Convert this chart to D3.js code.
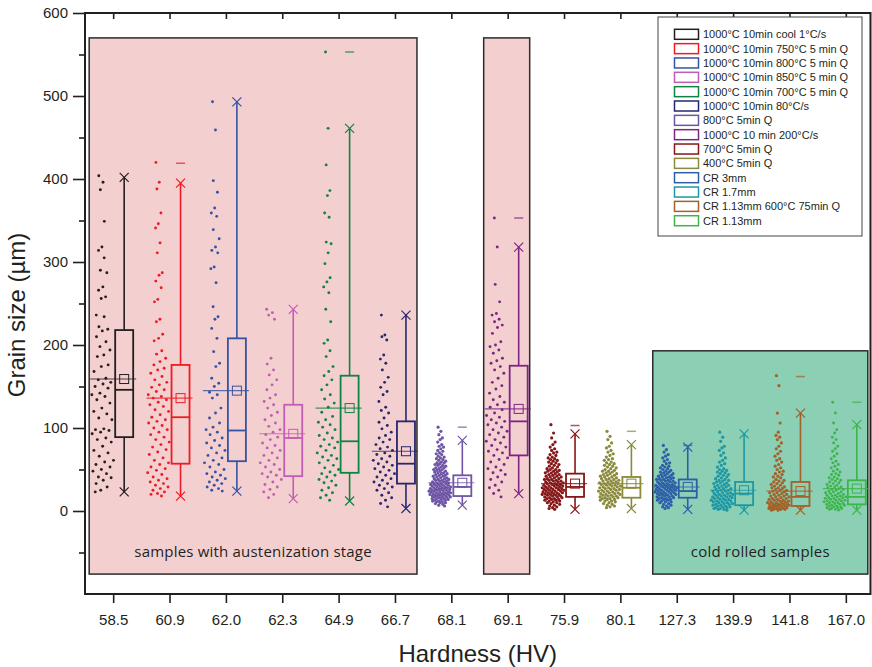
<!DOCTYPE html>
<html>
<head>
<meta charset="utf-8">
<script src="https://cdn.jsdelivr.net/npm/d3@7"></script>
<style>
  body { margin: 0; background: #fff; }
  svg text { font-family: "Liberation Sans", Arial, sans-serif; }
  .axis path { display: none; }
  .axis line { stroke: #231f20; stroke-width: 1.6; }
  .axis text { font-size: 15px; fill: #231f20; }
</style>
</head>
<body>
<svg id="chart" width="872" height="667"></svg>
<script>
// ---------- data ----------
var categories = ['58.5', '60.9', '62.0', '62.3', '64.9', '66.7', '68.1', '69.1', '75.9', '80.1', '127.3', '139.9', '141.8', '167.0'];

var seriesNames = ['1000°C 10min cool 1°C/s', '1000°C 10min 750°C 5 min Q', '1000°C 10min 800°C 5 min Q',
  '1000°C 10min 850°C 5 min Q', '1000°C 10min 700°C 5 min Q', '1000°C 10min 80°C/s', '800°C 5min Q',
  '1000°C 10 min 200°C/s', '700°C 5min Q', '400°C 5min Q', 'CR 3mm', 'CR 1.7mm', 'CR 1.13mm 600°C 75min Q', 'CR 1.13mm'];

var colors = ['#231f20', '#ed1c24', '#3553a3', '#c25db5', '#0f8442', '#25276f', '#6f55a6',
  '#7d2585', '#861618', '#8a8a3a', '#2d5fa8', '#1e98a4', '#a2622a', '#3db54a'];

// box statistics (µm)
var q1     = [89, 57, 60, 42, 46, 33, 18, 67, 17, 16, 16, 7, 6, 8];
var median = [146, 113, 97, 88, 84, 57, 29, 108, 29, 28, 24, 21, 17, 17];
var q3     = [218, 176, 208, 128, 163, 108, 43, 175, 45, 41, 38, 35, 35, 37];
var mean   = [159, 136, 145, 93, 124, 72, 34, 123, 33, 33, 29, 25, 24, 27];
var p1     = [23, 18, 24, 15, 12, 3, 7, 21, 2, 3, 2, 1, 1, 1];
var p99    = [402, 395, 493, 243, 461, 236, 85, 318, 93, 80, 77, 93, 118, 104];
var maxVal = [null, 419, null, null, 553, null, 101, 353, 103, 96, 79, null, 162, 131];

// individual grains
var pts585 = [404, 396, 387, 349, 318, 314, 305, 290, 287, 270, 266, 258, 256, 236, 234, 222, 219, 217, 210, 204,
  198, 194, 188, 186, 176, 174, 168, 160, 158, 155, 153, 150, 148, 142, 140, 138, 134, 130, 124, 120, 117, 112, 110,
  99, 98, 97, 95, 93, 88, 86, 83, 78, 73, 70, 66, 61, 59, 56, 53, 50, 48, 45, 41, 40, 37, 33, 29, 25, 23];
var pts609 = [420, 396, 388, 359, 346, 341, 323, 311, 287, 284, 277, 269, 255, 252, 231, 228, 213, 208, 205, 193,
  189, 184, 180, 176, 172, 170, 166, 162, 158, 155, 152, 149, 146, 144, 140, 138, 136, 134, 131, 128, 126, 122, 120,
  116, 113, 110, 108, 106, 103, 100, 98, 95, 92, 89, 86, 83, 80, 77, 74, 71, 68, 64, 61, 58, 56, 53, 51, 49, 46, 44,
  41, 39, 37, 35, 33, 31, 29, 27, 25, 23, 21, 20, 18];
var pts620 = [493, 459, 398, 384, 365, 359, 355, 339, 328, 318, 314, 311, 294, 292, 275, 246, 234, 231, 220, 208,
  192, 178, 174, 160, 154, 150, 143, 140, 136, 124, 118, 112, 106, 101, 98, 95, 92, 88, 85, 82, 79, 76, 73, 70, 67,
  64, 61, 58, 56, 53, 50, 47, 45, 43, 41, 39, 37, 35, 33, 31, 29, 27, 25, 24];
var pts623 = [243, 239, 236, 231, 184, 177, 170, 164, 158, 152, 146, 140, 136, 132, 128, 124, 119, 115, 110, 106,
  102, 98, 95, 92, 89, 86, 82, 79, 76, 73, 70, 67, 64, 61, 58, 56, 53, 50, 47, 45, 43, 41, 38, 35, 32, 29, 26, 23, 20, 16];
var pts649 = [553, 461, 417, 386, 380, 359, 354, 324, 322, 311, 298, 281, 276, 270, 263, 243, 228, 206, 202, 193,
  186, 174, 168, 163, 158, 152, 146, 140, 135, 130, 125, 119, 114, 110, 107, 104, 101, 98, 94, 91, 88, 86, 83, 80, 78,
  76, 73, 70, 67, 65, 63, 61, 58, 55, 52, 50, 47, 45, 43, 41, 38, 36, 34, 31, 28, 25, 22, 19, 16, 13];
var pts667 = [236, 212, 210, 206, 188, 183, 178, 170, 161, 155, 149, 144, 140, 132, 125, 121, 118, 112, 107, 103,
  99, 95, 91, 88, 86, 83, 80, 77, 75, 73, 70, 68, 66, 63, 61, 59, 57, 55, 53, 51, 49, 47, 45, 43, 41, 39, 37, 35, 33,
  31, 29, 27, 25, 22, 19, 16, 13, 9, 5];
var pts681 = [101, 96, 92, 88, 86, 83, 80, 78, 77, 75, 73, 72, 70, 69, 68, 66, 65, 64, 63, 62, 61, 60, 59, 58, 58,
  57, 56, 55, 55, 54, 53, 52, 52, 51, 50, 50, 49, 48, 48, 47, 46, 46, 45, 45, 44, 43, 43, 42, 42, 41, 40, 40, 39, 39,
  38, 38, 37, 37, 36, 36, 35, 35, 34, 34, 33, 33, 33, 32, 32, 31, 31, 31, 30, 30, 29, 29, 29, 28, 28, 28, 27, 27, 27,
  26, 26, 26, 25, 25, 25, 24, 24, 24, 23, 23, 23, 22, 22, 22, 21, 21, 21, 20, 20, 20, 19, 19, 19, 18, 18, 18, 17, 17,
  17, 16, 16, 15, 15, 15, 14, 14, 13, 13, 12, 12, 11, 11, 10, 10, 9, 8, 7, 6];
var pts691 = [353, 318, 273, 252, 238, 236, 231, 228, 224, 221, 214, 204, 200, 198, 194, 190, 184, 181, 178, 174,
  170, 166, 160, 155, 151, 147, 142, 138, 134, 131, 128, 125, 122, 118, 115, 113, 110, 108, 106, 104, 101, 98, 96, 94,
  92, 89, 86, 84, 82, 79, 77, 74, 72, 70, 67, 64, 62, 59, 56, 53, 51, 49, 46, 44, 41, 38, 35, 31, 28, 25, 21, 17];
var pts759 = [104, 94, 88, 83, 80, 77, 75, 73, 71, 70, 68, 67, 65, 64, 63, 62, 61, 60, 59, 58, 57, 56, 55, 54, 53,
  52, 51, 50, 50, 49, 48, 48, 47, 46, 46, 45, 44, 44, 43, 42, 42, 41, 41, 40, 39, 39, 38, 38, 37, 37, 36, 36, 35, 35,
  34, 34, 33, 33, 32, 32, 31, 31, 30, 30, 30, 29, 29, 28, 28, 28, 27, 27, 26, 26, 26, 25, 25, 24, 24, 24, 23, 23, 22,
  22, 22, 21, 21, 20, 20, 20, 19, 19, 18, 18, 17, 17, 16, 16, 15, 15, 14, 14, 13, 13, 12, 12, 11, 10, 10, 9, 8, 7, 6,
  5, 4, 3, 2];
var pts801 = [96, 90, 86, 82, 78, 76, 73, 71, 69, 67, 65, 63, 62, 61, 59, 58, 57, 56, 55, 54, 53, 52, 51, 50, 49,
  48, 48, 47, 46, 45, 45, 44, 43, 43, 42, 41, 41, 40, 39, 39, 38, 38, 37, 36, 36, 35, 35, 34, 34, 33, 33, 32, 32, 31,
  31, 30, 30, 29, 29, 28, 28, 27, 27, 26, 26, 25, 25, 24, 24, 23, 23, 22, 22, 21, 21, 20, 20, 19, 19, 18, 18, 17, 17,
  16, 16, 15, 15, 14, 14, 13, 12, 12, 11, 10, 9, 8, 7, 6, 5, 4];
var pts1273 = [79, 74, 71, 68, 66, 64, 62, 60, 58, 57, 55, 54, 53, 52, 51, 50, 49, 48, 47, 47, 46, 45, 45, 44, 43,
  43, 42, 41, 41, 40, 40, 39, 39, 38, 38, 37, 37, 36, 36, 35, 35, 34, 34, 33, 33, 32, 32, 31, 31, 31, 30, 30, 29, 29,
  29, 28, 28, 27, 27, 27, 26, 26, 25, 25, 25, 24, 24, 23, 23, 23, 22, 22, 21, 21, 21, 20, 20, 19, 19, 18, 18, 17, 17,
  16, 16, 15, 15, 14, 14, 13, 13, 12, 11, 11, 10, 9, 8, 7, 6, 5, 4, 3];
var pts1399 = [95, 89, 84, 78, 76, 73, 70, 67, 64, 61, 59, 57, 55, 53, 51, 50, 49, 48, 47, 46, 45, 44, 43, 42, 41,
  40, 39, 38, 37, 37, 36, 35, 34, 34, 33, 32, 31, 31, 30, 29, 29, 28, 27, 27, 26, 25, 25, 24, 24, 23, 22, 22, 21, 21,
  20, 20, 19, 19, 18, 18, 17, 17, 16, 16, 15, 15, 14, 14, 13, 13, 12, 12, 11, 11, 10, 10, 9, 9, 8, 8, 7, 7, 6, 6, 5,
  5, 4, 4, 3, 3, 2, 2, 1];
var pts1418 = [163, 151, 118, 106, 95, 91, 89, 86, 82, 78, 75, 72, 69, 66, 63, 61, 59, 56, 54, 52, 50, 48, 47, 45,
  44, 42, 41, 40, 38, 37, 36, 35, 34, 33, 32, 31, 30, 29, 28, 28, 27, 26, 25, 25, 24, 23, 22, 22, 21, 20, 20, 19, 18,
  18, 17, 17, 16, 15, 15, 14, 14, 13, 13, 12, 12, 11, 11, 10, 10, 10, 9, 9, 8, 8, 8, 7, 7, 7, 6, 6, 6, 5, 5, 5, 4, 4,
  4, 3, 3, 3, 2, 2, 2, 1, 1];
var pts1670 = [131, 118, 106, 98, 94, 89, 86, 82, 78, 75, 72, 69, 66, 63, 60, 58, 56, 54, 52, 50, 48, 47, 45, 44,
  43, 41, 40, 39, 38, 37, 36, 35, 34, 33, 32, 31, 30, 29, 29, 28, 27, 26, 26, 25, 24, 23, 23, 22, 21, 21, 20, 19, 19,
  18, 18, 17, 17, 16, 16, 15, 15, 14, 14, 13, 13, 12, 12, 11, 11, 10, 10, 9, 9, 8, 8, 7, 7, 6, 6, 5, 5, 4, 4, 3, 3, 2,
  2, 1];

var points = [pts585, pts609, pts620, pts623, pts649, pts667, pts681, pts691, pts759, pts801, pts1273, pts1399, pts1418, pts1670];

// shaded groups of samples: [first, last, top value, label, fill]
var groups = [
  ['58.5', '66.7', 570, 'samples with austenization stage', '#f4cfcf'],
  ['69.1', '69.1', 570, '', '#f4cfcf'],
  ['127.3', '167.0', 193, 'cold rolled samples', '#8bcfb4']
];
var groupBottom = -76;

// ---------- layout ----------
var plotL = 85, plotR = 874, plotT = 13, plotB = 594, frameR = 870.5;

var svg = d3.select('#chart');

var x = d3.scalePoint().domain(categories).range([plotL, plotR]).padding(0.5);
var y = d3.scaleLinear().domain([-100, 600]).range([plotB, plotT]);

//---------------------shaded groups----------
var gGroups = svg.append('g');
groups.forEach(g => {
  var x0 = x(g[0]) - 24, x1 = x(g[1]) + 22;
  gGroups.append('rect')
      .attr('x', x0).attr('y', y(g[2]))
      .attr('width', x1 - x0).attr('height', y(groupBottom) - y(g[2]))
      .attr('fill', g[4])
      .attr('stroke', '#2b2b2b')
      .attr('stroke-width', 1.5);
  if (g[3]) {
    gGroups.append('text')
        .attr('x', (x0 + x1) / 2)
        .attr('y', y(-56))
        .attr('text-anchor', 'middle')
        .style('font-family', '"Open Sans", sans-serif')
        .style('font-size', '15px')
        .style('letter-spacing', '0.2px')
        .attr('fill', '#231f20')
        .text(g[3]);
  }
});

//---------------------points & boxes----------
var golden = 0.6180339887;
categories.forEach((cat, i) => {
  var col = colors[i];
  var cx = x(cat) - 11,    // centre of jittered cloud
      bx = x(cat) + 11,    // centre of box
      bw = 18;
  var vals = points[i];
  var ext = d3.extent(vals);
  var bwK = Math.max((ext[1] - ext[0]) / 18, 3);
  var dens = vals.map(v => d3.sum(vals, w => Math.exp(-0.5 * Math.pow((v - w) / bwK, 2))));
  var dMax = d3.max(dens);
  var g = svg.append('g');

  g.selectAll('circle')
    .data(vals)
    .enter()
    .append('circle')
      .attr('cx', (v, j) => {
        var u = ((j * golden) % 1) * 2 - 1;
        return cx + u * 11.5 * (0.15 + 0.85 * dens[j] / dMax);
      })
      .attr('cy', v => y(v))
      .attr('r', vals.length > 90 ? 1.6 : 1.45)
      .attr('fill', col);

  // whiskers
  g.append('line')
      .attr('x1', bx).attr('x2', bx)
      .attr('y1', y(q3[i])).attr('y2', y(p99[i]))
      .attr('stroke', col).attr('stroke-width', 1.6);
  g.append('line')
      .attr('x1', bx).attr('x2', bx)
      .attr('y1', y(q1[i])).attr('y2', y(p1[i]))
      .attr('stroke', col).attr('stroke-width', 1.6);
  // box
  g.append('rect')
      .attr('x', bx - bw / 2).attr('y', y(q3[i]))
      .attr('width', bw).attr('height', y(q1[i]) - y(q3[i]))
      .attr('fill', 'none')
      .attr('stroke', col).attr('stroke-width', 1.8);
  g.append('line')
      .attr('x1', bx - bw / 2).attr('x2', bx + bw / 2)
      .attr('y1', y(median[i])).attr('y2', y(median[i]))
      .attr('stroke', col).attr('stroke-width', 1.8);
  // mean line across cloud and box
  g.append('line')
      .attr('x1', cx - 12).attr('x2', bx + 12)
      .attr('y1', y(mean[i])).attr('y2', y(mean[i]))
      .attr('stroke', col).attr('stroke-width', 1.1)
      .attr('opacity', 0.8);
  g.append('rect')
      .attr('x', bx - 4.5).attr('y', y(mean[i]) - 4.5)
      .attr('width', 9).attr('height', 9)
      .attr('fill', 'none')
      .attr('stroke', col).attr('stroke-width', 1);
  // 1% / 99% crosses
  [p1[i], p99[i]].forEach(v => {
    g.append('path')
        .attr('d', 'M-4.5,-4.5L4.5,4.5M-4.5,4.5L4.5,-4.5')
        .attr('transform', 'translate(' + bx + ',' + y(v) + ')')
        .attr('stroke', col).attr('stroke-width', 1.2)
        .attr('fill', 'none');
  });
  // max dash
  if (maxVal[i] != null) {
    g.append('line')
        .attr('x1', bx - 4.5).attr('x2', bx + 4.5)
        .attr('y1', y(maxVal[i])).attr('y2', y(maxVal[i]))
        .attr('stroke', col).attr('stroke-width', 1.5)
        .attr('opacity', 0.7);
  }
});

//---------------------axes----------
svg.append('g')
    .classed('axis', true)
    .attr('transform', 'translate(' + plotL + ',0)')
    .call(d3.axisLeft(y).tickValues(d3.range(0, 601, 100)).tickSize(12).tickPadding(5));
svg.append('g')
    .classed('axis', true)
    .attr('transform', 'translate(' + plotL + ',0)')
    .call(d3.axisLeft(y).tickValues(d3.range(-50, 600, 100)).tickSize(6).tickFormat(''));
svg.append('g')
    .classed('axis', true)
    .attr('transform', 'translate(0,' + plotB + ')')
    .call(d3.axisBottom(x).tickSize(9).tickPadding(11));
svg.append('g')
    .classed('axis', true)
    .attr('transform', 'translate(0,' + plotT + ')')
    .call(d3.axisTop(x).tickSize(-6).tickFormat(''));

// frame
svg.append('path')
    .attr('d', 'M' + plotL + ',' + plotT + 'H' + frameR + 'V' + plotB + 'H' + plotL + 'Z')
    .attr('fill', 'none')
    .attr('stroke', '#231f20')
    .attr('stroke-width', 2);

//---------------------axis titles----------
svg.append('text')
    .attr('transform', 'rotate(-90)')
    .attr('x', -315)
    .attr('y', 25)
    .attr('text-anchor', 'middle')
    .style('font-size', '24px')
    .attr('fill', '#231f20')
    .text('Grain size (µm)');
svg.append('text')
    .attr('x', (plotL + frameR) / 2)
    .attr('y', 662)
    .attr('text-anchor', 'middle')
    .style('font-size', '24px')
    .attr('fill', '#231f20')
    .text('Hardness (HV)');

//---------------------legend----------
var legend = svg.append('g').attr('transform', 'translate(658,17)');
legend.append('rect')
    .attr('width', 204).attr('height', 219)
    .attr('fill', '#fff')
    .attr('stroke', '#444').attr('stroke-width', 1);
var rows = legend.selectAll('g.row')
    .data(seriesNames)
    .enter()
    .append('g')
      .classed('row', true)
      .attr('transform', (d, i) => 'translate(0,' + (17.3 + i * 14.34) + ')');
rows.append('rect')
    .attr('x', 16.5).attr('y', -5)
    .attr('width', 24).attr('height', 10)
    .attr('fill', '#fff')
    .attr('stroke', (d, i) => colors[i])
    .attr('stroke-width', 1.5);
rows.append('text')
    .attr('x', 45)
    .attr('y', 4)
    .style('font-size', '11px')
    .attr('fill', '#231f20')
    .text(d => d);
</script>
</body>
</html>
